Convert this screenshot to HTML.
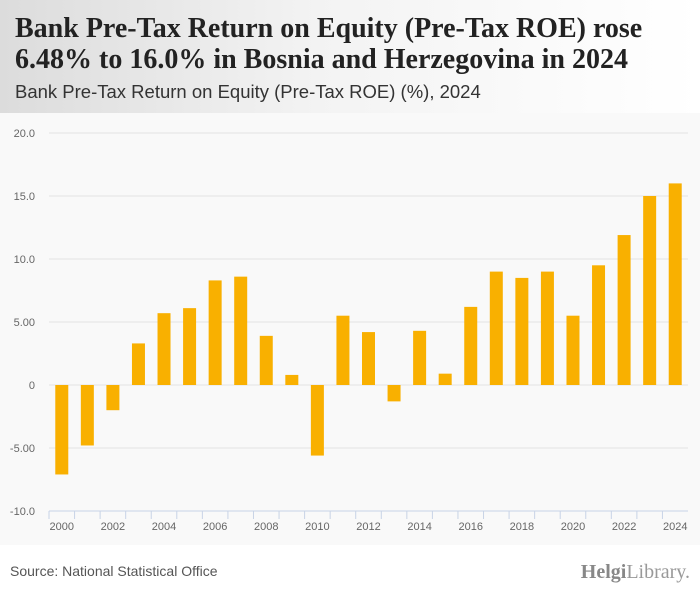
<!DOCTYPE html>
<html><head><meta charset="utf-8"><style>
body{margin:0;width:700px;height:596px;overflow:hidden;background:#fff;font-family:"Liberation Sans",sans-serif;}
#hdr{position:absolute;left:0;top:0;width:700px;height:113px;background:linear-gradient(90deg,#dcdcdc 0%,#f3f3f3 45%,#fff 100%);}
#title{position:absolute;left:15px;top:13px;font-family:"Liberation Serif",serif;font-weight:bold;font-size:28px;line-height:31px;color:#222;white-space:nowrap}
#sub{position:absolute;left:15px;top:81px;font-size:18.5px;color:#333;white-space:nowrap}
#panel{position:absolute;left:0;top:113px;width:700px;height:432px;background:#f9f9f9}
#src{position:absolute;left:10px;top:563px;font-size:14px;color:#555}
#logo{position:absolute;right:10px;top:561px;font-family:"Liberation Serif",serif;font-size:20px;color:#999}
svg{position:absolute;left:0;top:0}
</style></head><body>
<div id="hdr"></div>
<div id="title">Bank Pre-Tax Return on Equity (Pre-Tax ROE) rose<br>6.48% to 16.0% in Bosnia and Herzegovina in 2024</div>
<div id="sub">Bank Pre-Tax Return on Equity (Pre-Tax ROE) (%), 2024</div>
<div id="panel"></div>
<svg width="700" height="596" id="chart"></svg>
<div id="src">Source: National Statistical Office</div>
<div id="logo"><b style="color:#888">Helgi</b>Library.</div>
<script>
const years=[2000,2001,2002,2003,2004,2005,2006,2007,2008,2009,2010,2011,2012,2013,2014,2015,2016,2017,2018,2019,2020,2021,2022,2023,2024];
const values=[-7.1,-4.8,-2.0,3.3,5.7,6.1,8.3,8.6,3.9,0.8,-5.6,5.5,4.2,-1.3,4.3,0.9,6.2,9.0,8.5,9.0,5.5,9.5,11.9,15.0,16.0];
const yTicks=[20,15,10,5,0,-5,-10];
const yTickLabels=["20.0","15.0","10.0","5.00","0","-5.00","-10.0"];
const NS="http://www.w3.org/2000/svg";
const svg=document.getElementById('chart');
const x0=49,x1=688,yTop=133,yBot=511,vMax=20,vMin=-10;
const bw=(x1-x0)/years.length;
const y=v=>yTop+(vMax-v)*(yBot-yTop)/(vMax-vMin);
const xc=i=>x0+bw*(i+0.5);
function mk(t,a){const e=document.createElementNS(NS,t);for(const k in a)e.setAttribute(k,a[k]);svg.appendChild(e);return e;}
yTicks.forEach((v,i)=>{
 if(v!==vMin){const g=mk('line',{x1:x0,x2:x1,y1:y(v),y2:y(v),stroke:'#e2e2e2','stroke-width':1});
 
 }
 const t=mk('text',{x:35,y:y(v)+4,'text-anchor':'end','font-size':11,fill:'#666','font-family':'Liberation Sans, sans-serif'});
 t.textContent=yTickLabels[i];
 
 
});
const ax=mk('line',{x1:x0,x2:x1,y1:yBot,y2:yBot,stroke:'#c8d3e6','stroke-width':1});


years.forEach((yr,i)=>{
 const tk=mk('line',{x1:x0+bw*i,x2:x0+bw*i,y1:yBot,y2:yBot+8,stroke:'#c8d3e6'});
 
 
 const v=values[i];
 const r=mk('rect',{x:xc(i)-6.5,width:13,y:Math.min(y(v),y(0)),height:Math.abs(y(v)-y(0)),fill:'#f9b000'});
 
 
 if(i%2===0){const t=mk('text',{x:xc(i),y:530,'text-anchor':'middle','font-size':11,fill:'#666','font-family':'Liberation Sans, sans-serif'});
 t.textContent=yr;
 
 }
});
</script>
</body></html>
